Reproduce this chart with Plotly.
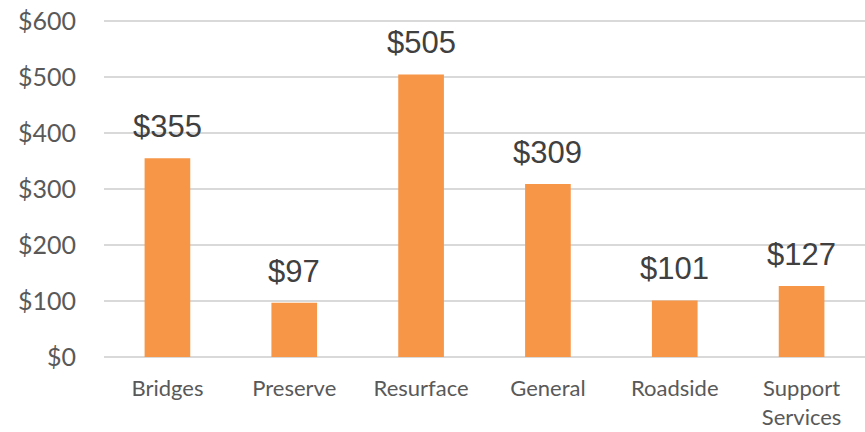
import plotly.graph_objects as go

categories = ["Bridges", "Preserve", "Resurface", "General", "Roadside", "Support<br>Services"]
values = [355, 97, 505, 309, 101, 127]
labels = ["$355", "$97", "$505", "$309", "$101", "$127"]
y_ticks = [0, 100, 200, 300, 400, 500, 600]
y_tick_text = ["$0", "$100", "$200", "$300", "$400", "$500", "$600"]

fig = go.Figure(go.Bar(
    x=categories, y=values,
    marker=dict(color="#F79646", line=dict(width=0)),
))

for c, v, t in zip(categories, values, labels):
    fig.add_annotation(
        x=c, y=v, text=t, showarrow=False, yanchor="bottom", yshift=12,
        font=dict(family="Liberation Sans, Arial", size=31, color="#404040"),
    )

fig.update_layout(
    width=865, height=432,
    margin=dict(l=104, r=0, t=19, b=75),
    paper_bgcolor="white", plot_bgcolor="white",
    bargap=0.64, showlegend=False,
    xaxis=dict(
        showgrid=False, showline=False, zeroline=False, automargin=False,
        tickfont=dict(family="Lato", size=22, color="#595959"),
        ticks="", ticklabelstandoff=16,
    ),
    yaxis=dict(
        range=[0, 604], tickvals=y_ticks, ticktext=y_tick_text, automargin=False,
        showgrid=True, gridcolor="#D9D9D9", gridwidth=1.5,
        zeroline=True, zerolinecolor="#D9D9D9", zerolinewidth=1.5,
        showline=False, ticks="",
        tickfont=dict(family="Lato", size=25, color="#595959"),
        ticklabelstandoff=27,
    ),
)

fig.write_html(
    "out.html",
    config={"displayModeBar": False},
    post_script="document.body.style.margin='0';document.body.style.overflow='hidden';",
)
